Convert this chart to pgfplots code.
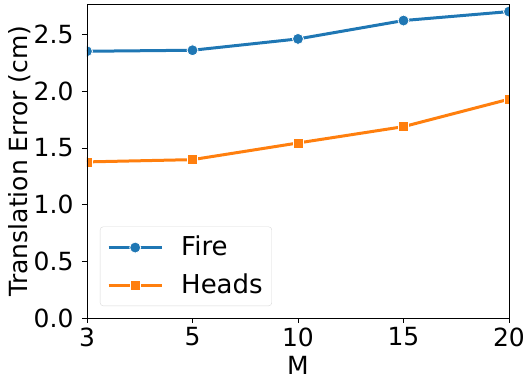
\documentclass[border=0pt]{standalone}
\usepackage{fontspec}
\setmainfont{DejaVu Sans}
\usepackage{pgfplots}
\pgfplotsset{compat=1.18}
\definecolor{tabblue}{HTML}{1F77B4}
\definecolor{taborange}{HTML}{FF7F0E}
\begin{document}
\fontsize{25}{29}\selectfont
\begin{tikzpicture}
\begin{axis}[
  scale only axis, width=422pt, height=314pt,
  xmin=0, xmax=4, ymin=0, ymax=2.77,
  xtick={0,1,2,3,4}, xticklabels={3,5,10,15,20},
  ytick={0,0.5,1.0,1.5,2.0,2.5},
  yticklabel style={/pgf/number format/.cd, fixed, fixed zerofill, precision=1},
  xticklabel style={yshift=4pt},
  /pgf/number format/assume math mode=true,
  tick align=outside, major tick length=5pt,
  xtick pos=lower, ytick pos=left,
  tick style={black, line width=0.8pt},
  axis line style={line width=0.8pt},
  axis on top,
  clip marker paths=true,
  xlabel={M}, ylabel={Translation Error (cm)},
  xlabel style={at={(axis description cs:0.5,-0.179)}, anchor=base, inner sep=0pt},
  ylabel style={at={(axis description cs:-0.159,0.5)}, anchor=center},
  legend style={at={(axis description cs:0.0308,0.0382)}, anchor=south west,
    draw=black!15, rounded corners=3pt, fill=white, inner xsep=7pt, inner ysep=7pt,
    row sep=10pt, cells={anchor=west}, font=\fontsize{26}{30}\selectfont,
    /tikz/every odd column/.append style={column sep=16pt}},
  legend image code/.code={\draw[mark repeat=2,mark phase=2] plot coordinates {(0pt,0pt)(26.5pt,0pt)(53pt,0pt)};},
]
\addplot[tabblue, line width=3pt, mark=*, mark size=5.5pt,
  mark options={fill=tabblue, draw=white, line width=0.8pt}]
  coordinates {(0,2.353)(1,2.362)(2,2.462)(3,2.624)(4,2.703)};
\addlegendentry{Fire}
\addplot[taborange, line width=3pt, mark=square*, mark size=5pt,
  mark options={fill=taborange, draw=white, line width=0.8pt, sharp corners}]
  coordinates {(0,1.377)(1,1.397)(2,1.544)(3,1.688)(4,1.930)};
\addlegendentry{Heads}
\coordinate (bl) at (rel axis cs:0,0);
\coordinate (tr) at (rel axis cs:1,1);
\end{axis}
\pgfresetboundingbox
\path ([shift={(-87pt,-61pt)}]bl) rectangle ([shift={(16pt,4pt)}]tr);
\end{tikzpicture}
\end{document}
